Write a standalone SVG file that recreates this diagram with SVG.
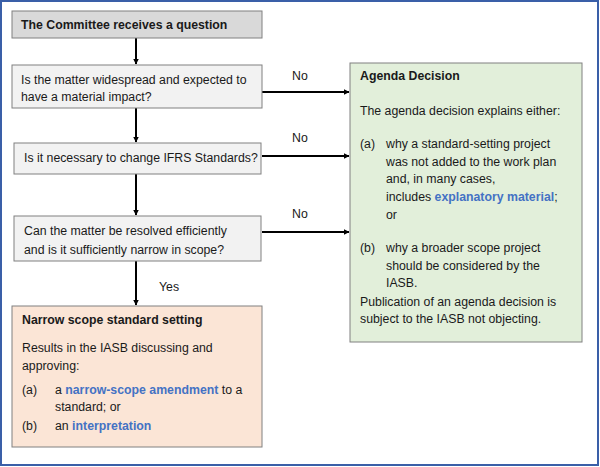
<svg xmlns="http://www.w3.org/2000/svg" width="600" height="467" viewBox="0 0 600 467">
<defs>
<marker id="ah" markerWidth="6" markerHeight="6" refX="5.5" refY="3" orient="auto" markerUnits="userSpaceOnUse">
<path d="M0,0 L6,3 L0,6 Z" fill="#000"/>
</marker>
<style>
text{font-family:"Liberation Sans",Arial,sans-serif;font-size:12.3px;fill:#1a1a1a}
.b{font-weight:bold}
.lk{fill:#4472c4;font-weight:bold}
.box{stroke:#808080;stroke-width:1}
.c{stroke:#000;stroke-width:2;fill:none;marker-end:url(#ah)}
</style>
</defs>
<rect x="0" y="0" width="600" height="467" fill="#fff"/>
<rect x="1" y="1" width="597" height="464" fill="none" stroke="#3a5fa8" stroke-width="2"/>
<g id="connectors">
<line class="c" x1="136" y1="38" x2="136" y2="64"/>
<line class="c" x1="136" y1="108" x2="136" y2="142"/>
<line class="c" x1="136" y1="174" x2="136" y2="215"/>
<line class="c" x1="136" y1="261" x2="136" y2="305"/>
<line class="c" x1="262" y1="92" x2="349" y2="92"/>
<line class="c" x1="262" y1="156" x2="349" y2="156"/>
<line class="c" x1="262" y1="232" x2="349" y2="232"/>
<text x="292" y="80">No</text>
<text x="292" y="142">No</text>
<text x="292" y="218">No</text>
<text x="159" y="291">Yes</text>
</g>
<g id="n1">
<rect class="box" x="12" y="11" width="250" height="27" fill="#d9d9d9"/>
<text class="b" x="21" y="29">The Committee receives a question</text>
</g>
<g id="n2">
<rect class="box" x="12" y="65" width="250" height="43" fill="#f2f2f2"/>
<text x="21" y="84">Is the matter widespread and expected to</text>
<text x="21" y="101">have a material impact?</text>
</g>
<g id="n3">
<rect class="box" x="14" y="143" width="247" height="31" fill="#f2f2f2"/>
<text x="24" y="162">Is it necessary to change IFRS Standards?</text>
</g>
<g id="n4">
<rect class="box" x="14" y="216" width="247" height="45" fill="#f2f2f2"/>
<text x="24" y="235">Can the matter be resolved efficiently</text>
<text x="24" y="254">and is it sufficiently narrow in scope?</text>
</g>
<g id="n5">
<rect class="box" x="12" y="306" width="250" height="141" fill="#fbe5d6"/>
<text class="b" x="22" y="324">Narrow scope standard setting</text>
<text x="22" y="352">Results in the IASB discussing and</text>
<text x="22" y="370">approving:</text>
<text x="22" y="394">(a)</text>
<text x="55" y="394">a <tspan class="lk">narrow-scope amendment</tspan> to a</text>
<text x="55" y="411">standard; or</text>
<text x="22" y="430">(b)</text>
<text x="55" y="430">an <tspan class="lk">interpretation</tspan></text>
</g>
<g id="agenda">
<rect class="box" x="350" y="63" width="232" height="279" fill="#e2efda"/>
<text class="b" x="360" y="80">Agenda Decision</text>
<text x="360" y="115">The agenda decision explains either:</text>
<text x="360" y="148">(a)</text>
<text x="386" y="148">why a standard-setting project</text>
<text x="386" y="166">was not added to the work plan</text>
<text x="386" y="183">and, in many cases,</text>
<text x="386" y="201">includes <tspan class="lk">explanatory material</tspan>;</text>
<text x="386" y="219">or</text>
<text x="360" y="252">(b)</text>
<text x="386" y="252">why a broader scope project</text>
<text x="386" y="270">should be considered by the</text>
<text x="386" y="287">IASB.</text>
<text x="360" y="306">Publication of an agenda decision is</text>
<text x="360" y="323">subject to the IASB not objecting.</text>
</g>
</svg>
